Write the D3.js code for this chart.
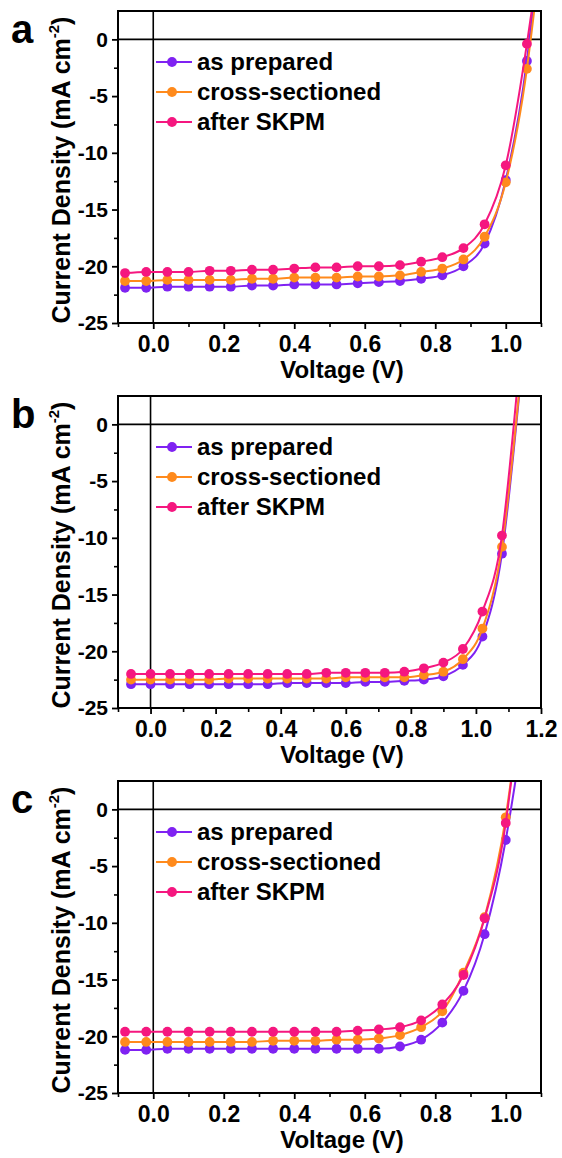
<!DOCTYPE html>
<html>
<head>
<meta charset="utf-8">
<script src="https://cdn.jsdelivr.net/npm/d3@7"></script>
<style>
  body { margin: 0; background: #fff; }
  text { font-family: "Liberation Sans", Arial, sans-serif; font-weight: bold; }
</style>
</head>
<body>
<svg id="chart" width="562" height="1158"></svg>
<script>
const SERIES = ['as prepared', 'cross-sectioned', 'after SKPM']
const COLORS = ['#7f22f2', '#ff8a1c', '#f5177f']

// panel a
const voltA = [-0.08, -0.02, 0.04, 0.10, 0.16, 0.22, 0.28, 0.34, 0.40, 0.46, 0.52, 0.58, 0.64, 0.70, 0.76, 0.82, 0.88, 0.94, 1.00, 1.06]
const prepA = [-21.9, -21.9, -21.8, -21.8, -21.8, -21.8, -21.7, -21.7, -21.6, -21.6, -21.6, -21.5, -21.4, -21.3, -21.1, -20.8, -20.0, -18.0, -12.4, -1.9]
const crossA = [-21.3, -21.3, -21.2, -21.2, -21.2, -21.2, -21.1, -21.1, -21.0, -21.0, -21.0, -20.9, -20.9, -20.8, -20.5, -20.2, -19.4, -17.4, -12.6, -2.6]
const skpmA = [-20.6, -20.5, -20.5, -20.5, -20.4, -20.4, -20.3, -20.3, -20.2, -20.1, -20.1, -20.0, -20.0, -19.9, -19.6, -19.2, -18.4, -16.3, -11.1, -0.4]
const tailA = [[1.077, 2.6], [1.081, 2.6], [1.074, 2.6]]

// panel b
const voltB = [-0.06, 0.00, 0.06, 0.12, 0.18, 0.24, 0.30, 0.36, 0.42, 0.48, 0.54, 0.60, 0.66, 0.72, 0.78, 0.84, 0.90, 0.96, 1.02, 1.08]
const prepB = [-22.9, -22.9, -22.9, -22.9, -22.9, -22.9, -22.9, -22.9, -22.8, -22.8, -22.8, -22.8, -22.7, -22.7, -22.6, -22.5, -22.2, -21.2, -18.7, -11.4]
const crossB = [-22.5, -22.5, -22.5, -22.5, -22.5, -22.4, -22.4, -22.4, -22.4, -22.4, -22.4, -22.3, -22.3, -22.3, -22.3, -22.1, -21.8, -20.7, -18.0, -10.8]
const skpmB = [-22.0, -22.0, -22.0, -22.0, -22.0, -22.0, -22.0, -22.0, -22.0, -22.0, -21.9, -21.9, -21.9, -21.9, -21.8, -21.5, -21.0, -19.8, -16.5, -9.8]
const tailB = [[1.133, 2.6], [1.132, 2.6], [1.125, 2.6]]

// panel c
const voltC = [-0.08, -0.02, 0.04, 0.10, 0.16, 0.22, 0.28, 0.34, 0.40, 0.46, 0.52, 0.58, 0.64, 0.70, 0.76, 0.82, 0.88, 0.94, 1.00]
const prepC = [-21.2, -21.2, -21.1, -21.1, -21.1, -21.1, -21.1, -21.1, -21.1, -21.1, -21.1, -21.1, -21.1, -20.9, -20.3, -18.8, -16.0, -11.0, -2.7]
const crossC = [-20.5, -20.5, -20.5, -20.5, -20.5, -20.5, -20.5, -20.4, -20.4, -20.4, -20.3, -20.3, -20.2, -19.9, -19.2, -17.8, -14.4, -9.5, -0.7]
const skpmC = [-19.6, -19.6, -19.6, -19.6, -19.6, -19.6, -19.6, -19.6, -19.6, -19.6, -19.6, -19.5, -19.4, -19.2, -18.6, -17.2, -14.6, -9.6, -1.2]
const tailC = [[1.028, 2.6], [1.015, 2.6], [1.016, 2.6]]

const xTicksAC = [0.0, 0.2, 0.4, 0.6, 0.8, 1.0]
const xTicksB = [0.0, 0.2, 0.4, 0.6, 0.8, 1.0, 1.2]
const yTicks = [-25, -20, -15, -10, -5, 0]

const panels = [
  { label: 'a', top: 11, xMax: 1.1, ticks: xTicksAC, volt: voltA, series: [prepA, crossA, skpmA], tail: tailA },
  { label: 'b', top: 396, xMax: 1.2, ticks: xTicksB, volt: voltB, series: [prepB, crossB, skpmB], tail: tailB },
  { label: 'c', top: 781, xMax: 1.1, ticks: xTicksAC, volt: voltC, series: [prepC, crossC, skpmC], tail: tailC },
]

const svg = d3.select('#chart')
const left = 118, right = 541, h = 312

panels.forEach((p, pi) => {
  const g = svg.append('g').attr('transform', `translate(0,${p.top})`)
  const x = d3.scaleLinear().domain([-0.1, p.xMax]).range([left, right])
  const y = d3.scaleLinear().domain([-25, 2.5]).range([h, 0])

  const clipId = 'clip' + pi
  g.append('clipPath').attr('id', clipId).append('rect')
    .attr('x', left).attr('y', 0).attr('width', right - left).attr('height', h)

  // zero lines
  g.append('line').attr('x1', left).attr('x2', right).attr('y1', y(0)).attr('y2', y(0))
    .attr('stroke', '#000').attr('stroke-width', 1.6)
  g.append('line').attr('x1', x(0)).attr('x2', x(0)).attr('y1', 0).attr('y2', h)
    .attr('stroke', '#000').attr('stroke-width', 1.6)

  // minor ticks
  const minorX = d3.range(-0.1, p.xMax + 0.001, 0.1).map(v => +v.toFixed(2)).filter(v => !p.ticks.some(t => Math.abs(t - v) < 1e-6))
  g.append('g').attr('transform', `translate(0,${h})`)
    .call(d3.axisBottom(x).tickValues(minorX).tickSize(4).tickSizeOuter(0).tickFormat(''))
    .call(a => a.select('.domain').remove())
    .selectAll('line').attr('stroke-width', 1.6)
  const minorY = [-22.5, -17.5, -12.5, -7.5, -2.5]
  g.append('g').attr('transform', `translate(${left},0)`)
    .call(d3.axisLeft(y).tickValues(minorY).tickSize(4).tickSizeOuter(0).tickFormat(''))
    .call(a => a.select('.domain').remove())
    .selectAll('line').attr('stroke-width', 1.6)

  // major axes
  const xa = g.append('g').attr('transform', `translate(0,${h})`)
    .call(d3.axisBottom(x).tickValues(p.ticks).tickSize(6).tickSizeOuter(0).tickPadding(7).tickFormat(d3.format('.1f')))
  xa.select('.domain').remove()
  xa.selectAll('line').attr('stroke-width', 1.8)
  xa.selectAll('text').attr('font-size', 23).attr('fill', '#000')

  const ya = g.append('g').attr('transform', `translate(${left},0)`)
    .call(d3.axisLeft(y).tickValues(yTicks).tickSize(6).tickSizeOuter(0).tickPadding(4).tickFormat(d => String(d)))
  ya.select('.domain').remove()
  ya.selectAll('line').attr('stroke-width', 1.8)
  ya.selectAll('text').attr('font-size', 21).attr('fill', '#000')

  // curves
  const line = d3.line().x(d => x(d[0])).y(d => y(d[1])).curve(d3.curveMonotoneX)
  const plot = g.append('g').attr('clip-path', `url(#${clipId})`)
  p.series.forEach((vals, si) => {
    const pts = p.volt.map((v, i) => [v, vals[i]])
    plot.append('path').datum(pts.concat([p.tail[si]]))
      .attr('d', line).attr('fill', 'none').attr('stroke', COLORS[si]).attr('stroke-width', 2)
    plot.selectAll(null).data(pts).enter().append('circle')
      .attr('cx', d => x(d[0])).attr('cy', d => y(d[1])).attr('r', 4.9)
      .attr('fill', COLORS[si])
  })

  // frame
  g.append('rect').attr('x', left).attr('y', 0).attr('width', right - left).attr('height', h)
    .attr('fill', 'none').attr('stroke', '#000').attr('stroke-width', 2)

  // legend
  const lg = g.append('g')
  SERIES.forEach((s, si) => {
    const ly = 51 + si * 30
    lg.append('line').attr('x1', 156).attr('x2', 192).attr('y1', ly).attr('y2', ly)
      .attr('stroke', COLORS[si]).attr('stroke-width', 2)
    lg.append('circle').attr('cx', 172).attr('cy', ly).attr('r', 4.9).attr('fill', COLORS[si])
    lg.append('text').attr('x', 197).attr('y', ly + 8).attr('font-size', 24).text(s)
  })

  // axis titles
  g.append('text').attr('x', 342).attr('y', h + 55).attr('text-anchor', 'middle')
    .attr('font-size', 24).text('Voltage (V)')
  const yt = g.append('text').attr('transform', `translate(70,${159}) rotate(-90)`)
    .attr('text-anchor', 'middle').attr('font-size', 25)
  yt.append('tspan').text('Current Density (mA cm')
  yt.append('tspan').attr('font-size', 15).attr('dy', -11).text('-2')
  yt.append('tspan').attr('dy', 11).text(')')

  g.append('text').attr('x', 11).attr('y', 32).attr('font-size', 40).text(p.label)
})
</script>
</body>
</html>
